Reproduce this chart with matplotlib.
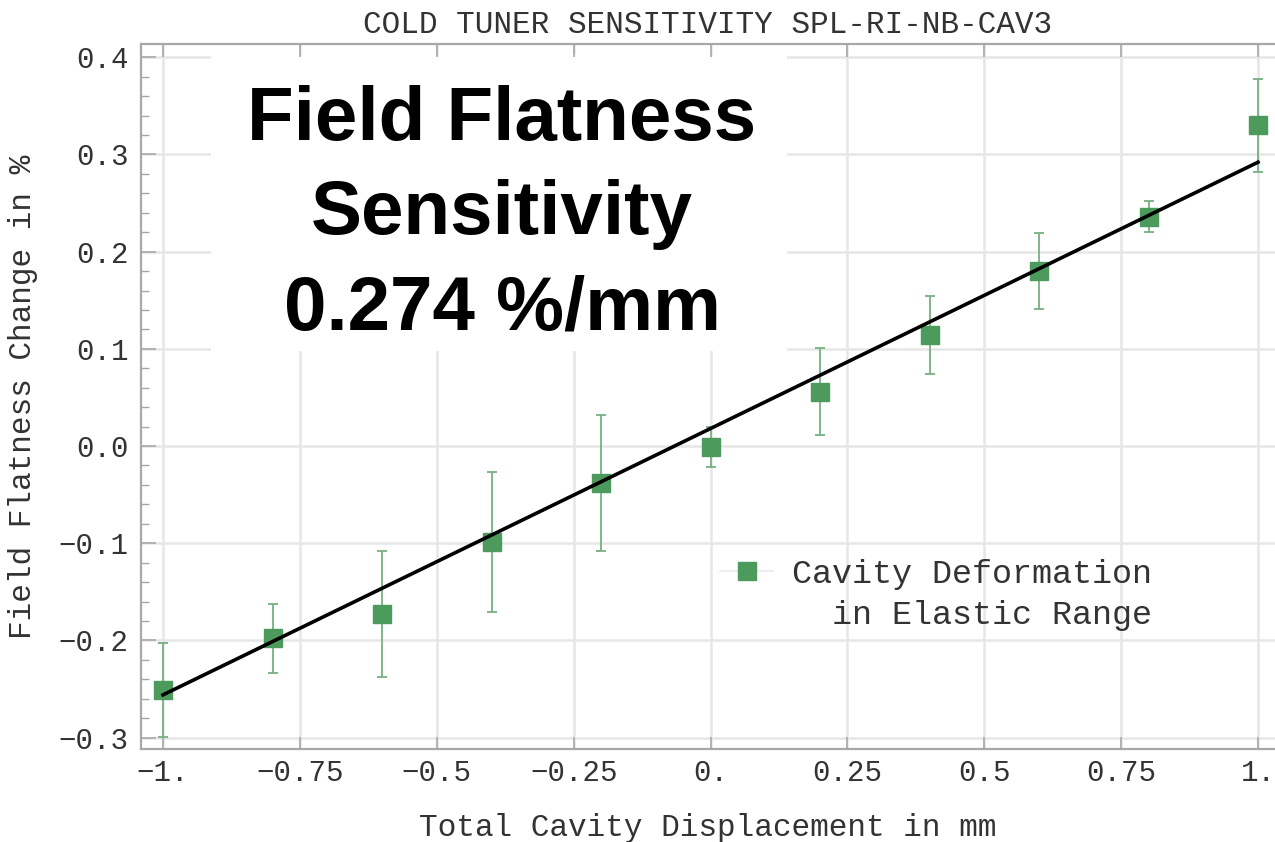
import numpy as np
import matplotlib
matplotlib.use('Agg')
import matplotlib.pyplot as plt
from matplotlib.patches import Rectangle
from matplotlib.lines import Line2D

# Measured points (displacement in mm, field flatness change in %)
displacement = [-1.0, -0.8, -0.6, -0.4, -0.2, 0.0, 0.2, 0.4, 0.6, 0.8, 1.0]
ff_change = [-0.251, -0.198, -0.173, -0.099, -0.038, -0.001, 0.056, 0.114, 0.180, 0.236, 0.330]
ff_error = [0.048, 0.035, 0.065, 0.072, 0.070, 0.021, 0.045, 0.040, 0.039, 0.016, 0.048]

# Linear fit
fit_slope = 0.274
fit_intercept = 0.018
fit_range = [-1.0, 1.0]

x_ticks = [-1.0, -0.75, -0.5, -0.25, 0.0, 0.25, 0.5, 0.75, 1.0]
x_ticklabels = ['\u22121.', '\u22120.75', '\u22120.5', '\u22120.25', '0.', '0.25', '0.5', '0.75', '1.']
y_ticks = [-0.3, -0.2, -0.1, 0.0, 0.1, 0.2, 0.3, 0.4]
y_ticklabels = ['\u22120.3', '\u22120.2', '\u22120.1', '0.0', '0.1', '0.2', '0.3', '0.4']

mono = 'Liberation Mono'
text_col = '#333333'
frame_col = '#a8a8a8'
marker_col = '#4c9a5c'
err_col = '#78b083'

W, H = 1275, 842
L, R, T, B = 141, 1275, 44, 749

fig = plt.figure(figsize=(W / 100, H / 100), dpi=100)
ax = fig.add_axes([L / W, 1 - B / H, (R - L) / W, (B - T) / H])

ax.set_xlim(-1.0402, 1.031)
ax.set_ylim(-0.3117, 0.4136)


def ax_x(px):
    return (px - L) / (R - L)


def ax_y(py):
    return (B - py) / (B - T)


# grid
for xv in x_ticks:
    ax.axvline(xv, color='#e6e6e6', lw=1.8, zorder=0)
for yv in y_ticks:
    ax.axhline(yv, color='#e6e6e6', lw=1.8, zorder=0)

# white panel behind the annotation
ax.add_patch(Rectangle((ax_x(211), ax_y(351)), ax_x(787) - ax_x(211), ax_y(55) - ax_y(351),
                       transform=ax.transAxes, facecolor='white', edgecolor='none', zorder=1))

# data
ax.errorbar(displacement, ff_change, yerr=ff_error, fmt='none', ecolor=err_col,
            elinewidth=1.3, capsize=3.6, capthick=1.3, zorder=3)
ax.plot(displacement, ff_change, 's', color=marker_col, markersize=13.5, zorder=4)

fit_x = np.array(fit_range)
ax.plot(fit_x, fit_slope * fit_x + fit_intercept, color='black', lw=2.6, zorder=5)

# frame
for side in ['left', 'bottom', 'top']:
    ax.spines[side].set_color(frame_col)
    ax.spines[side].set_linewidth(1.6)
ax.spines['right'].set_visible(False)

ax.set_xticks(x_ticks)
ax.set_xticklabels(x_ticklabels)
ax.set_yticks(y_ticks)
ax.set_yticklabels(y_ticklabels)
ax.set_yticks(np.arange(-0.30, 0.41, 0.02), minor=True)
ax.tick_params(axis='both', which='major', direction='in', color=frame_col,
               width=1.2, labelsize=21, labelcolor=text_col)
ax.tick_params(axis='x', which='major', length=9, top=True, pad=7)
ax.tick_params(axis='y', which='major', length=11, pad=9)
ax.tick_params(axis='y', which='minor', direction='in', length=6, width=1.0, color=frame_col)
for lab in ax.get_xticklabels() + ax.get_yticklabels():
    lab.set_family(mono)

ax.set_xlabel('Total Cavity Displacement in mm', family=mono, fontsize=22.4,
              color=text_col, labelpad=19)
ax.set_ylabel('Field Flatness Change in %', family=mono, fontsize=22.4,
              color=text_col)
ax.yaxis.set_label_coords(ax_x(38), 0.5)
ax.set_title('COLD TUNER SENSITIVITY SPL-RI-NB-CAV3', family=mono, fontsize=22.4,
             color=text_col, pad=8)

# annotation
ax.text(ax_x(502), ax_y(215),
        'Field Flatness\nSensitivity\n0.274 %/mm', transform=ax.transAxes,
        ha='center', va='center', multialignment='center',
        family='Liberation Sans', weight='bold', fontsize=55,
        linespacing=1.43, color='black', zorder=6)

# legend: marker on the first line, second line indented
handle = Line2D([], [], color='#eeeeee', lw=1.5, marker='s', markersize=13,
                markerfacecolor=marker_col, markeredgecolor=marker_col)
blank = Line2D([], [], color='none', marker='none')
leg = ax.legend([handle, blank], ['Cavity Deformation', '  in Elastic Range'],
                loc='upper left', bbox_to_anchor=(ax_x(720), ax_y(559)),
                frameon=False, prop={'family': mono, 'size': 24}, handlelength=1.6,
                handletextpad=0.55, borderaxespad=0, borderpad=0, labelspacing=0.3)
for t in leg.get_texts():
    t.set_color(text_col)

fig.savefig('out.png', dpi=100)
